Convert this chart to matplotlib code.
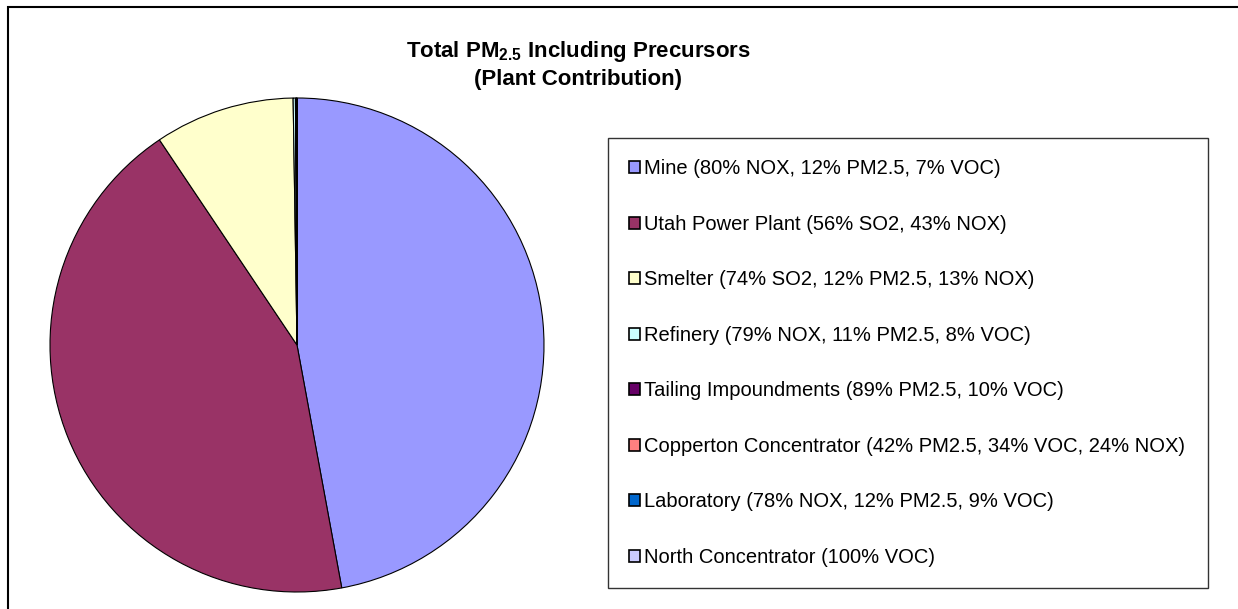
import matplotlib.pyplot as plt
from matplotlib.patches import Rectangle

plt.rcParams['font.family'] = ['Liberation Sans', 'DejaVu Sans']
plt.rcParams['mathtext.fontset'] = 'custom'
plt.rcParams['mathtext.rm'] = 'Liberation Sans'
plt.rcParams['mathtext.bf'] = 'Liberation Sans:bold'

sources = ['Mine (80% NOX, 12% PM2.5, 7% VOC)',
           'Utah Power Plant (56% SO2, 43% NOX)',
           'Smelter (74% SO2, 12% PM2.5, 13% NOX)',
           'Refinery (79% NOX, 11% PM2.5, 8% VOC)',
           'Tailing Impoundments (89% PM2.5, 10% VOC)',
           'Copperton Concentrator (42% PM2.5, 34% VOC, 24% NOX)',
           'Laboratory (78% NOX, 12% PM2.5, 9% VOC)',
           'North Concentrator (100% VOC)']
shares = [47.1, 43.5, 9.15, 0.15, 0.05, 0.03, 0.01, 0.01]
colors = ['#9999FF', '#993366', '#FFFFCC', '#CCFFFF',
          '#660066', '#FF8080', '#0066CC', '#CCCCFF']

W, H = 1238, 609
fig = plt.figure(figsize=(W / 100, H / 100), dpi=100)

# outer chart frame (only left and top edges show in the image)
fig.patches.append(Rectangle((8 / W, -0.1), 1.2, 1 - 7 / H + 0.1,
                             transform=fig.transFigure, fill=False,
                             edgecolor='black', linewidth=1.5))

# pie: centre (297, 345) px, radius 247 px
cx, cy, r = 297, 345, 247
ax = fig.add_axes([(cx - r) / W, (H - cy - r) / H, 2 * r / W, 2 * r / H])
wedges, _ = ax.pie(shares, colors=colors, startangle=90, counterclock=False,
                   radius=1, wedgeprops=dict(edgecolor='black', linewidth=0.8))
ax.set_xlim(-1, 1)
ax.set_ylim(-1, 1)
ax.set_aspect('equal')
ax.axis('off')

leg = fig.legend(wedges, sources, loc='upper left',
                 bbox_to_anchor=(608 / W, 1 - 588 / H, 600 / W, 450 / H),
                 bbox_transform=fig.transFigure, mode='expand',
                 fontsize=14.5, frameon=True, fancybox=False, shadow=False,
                 edgecolor='black', borderpad=1.05, labelspacing=1.815,
                 handlelength=0.55, handleheight=0.55, handletextpad=0.2,
                 borderaxespad=0)
leg.get_frame().set_linewidth(1.0)
for h in leg.legend_handles:
    h.set_linewidth(1.2)

fig.text(578 / W, 1 - 52 / H, r'Total PM$_\mathbf{2.5}$ Including Precursors',
         ha='center', va='center', fontsize=16, fontweight='bold')
fig.text(578 / W, 1 - 80 / H, '(Plant Contribution)',
         ha='center', va='center', fontsize=16, fontweight='bold')

fig.savefig('out.png', dpi=100)
